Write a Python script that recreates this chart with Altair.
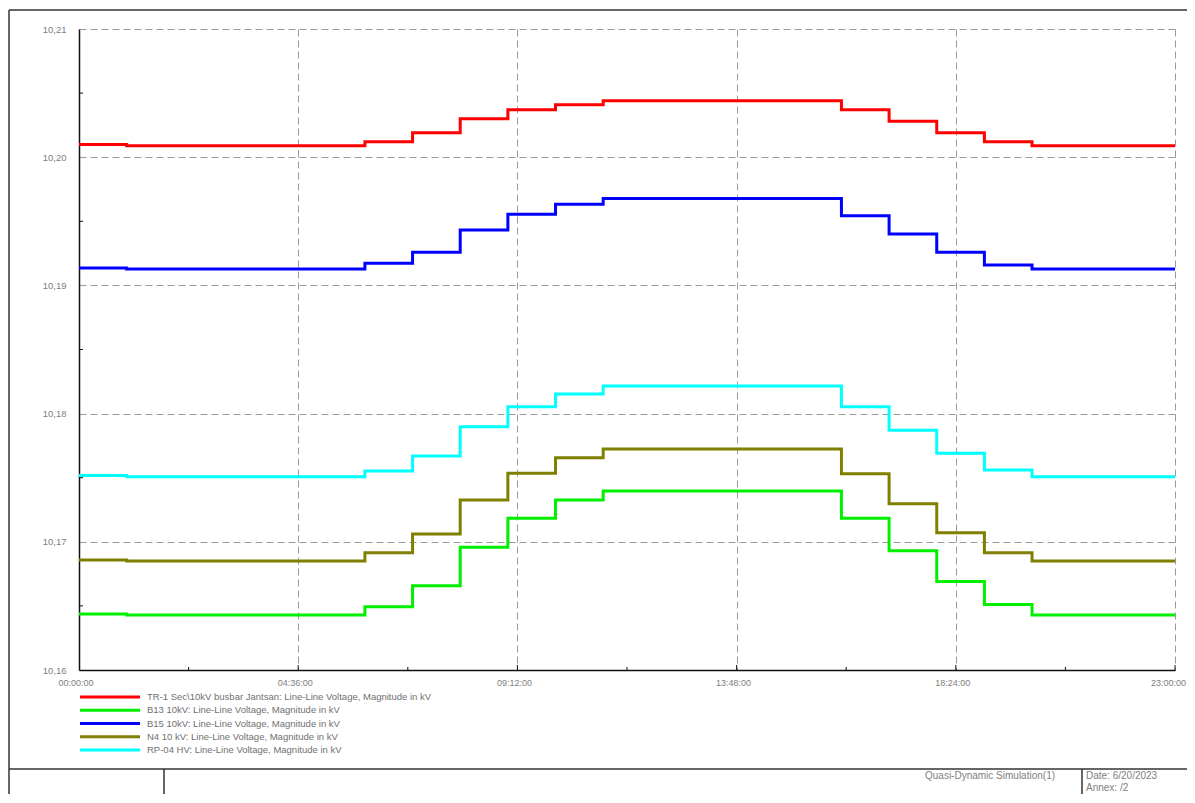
import altair as alt
import pandas as pd

# ---------------- data ----------------
hours = list(range(24))  # hourly steps, 00:00 ... 23:00

tr1 = [10.2010, 10.2009, 10.2009, 10.2009, 10.2009, 10.2009, 10.2012, 10.2019,
       10.2030, 10.2037, 10.2041, 10.2044, 10.2044, 10.2044, 10.2044, 10.2044,
       10.2037, 10.2028, 10.2019, 10.2012, 10.2009, 10.2009, 10.2009, 10.2009]
b13 = [10.16437, 10.16429, 10.16429, 10.16429, 10.16429, 10.16429, 10.16494, 10.16657,
       10.16957, 10.17183, 10.17326, 10.17396, 10.17396, 10.17396, 10.17396, 10.17396,
       10.17183, 10.16930, 10.16690, 10.16510, 10.16429, 10.16429, 10.16429, 10.16429]
b15 = [10.19136, 10.19128, 10.19128, 10.19128, 10.19128, 10.19128, 10.19172, 10.19258,
       10.19432, 10.19555, 10.19633, 10.19677, 10.19677, 10.19677, 10.19677, 10.19677,
       10.19544, 10.19401, 10.19258, 10.19159, 10.19128, 10.19128, 10.19128, 10.19128]
n4 = [10.16858, 10.16850, 10.16850, 10.16850, 10.16850, 10.16850, 10.16915, 10.17061,
      10.17326, 10.17534, 10.17656, 10.17724, 10.17724, 10.17724, 10.17724, 10.17724,
      10.17530, 10.17296, 10.17070, 10.16914, 10.16850, 10.16850, 10.16850, 10.16850]
rp04 = [10.17517, 10.17508, 10.17508, 10.17508, 10.17508, 10.17508, 10.17552, 10.17669,
        10.17898, 10.18054, 10.18153, 10.18215, 10.18215, 10.18215, 10.18215, 10.18215,
        10.18054, 10.17870, 10.17690, 10.17560, 10.17508, 10.17508, 10.17508, 10.17508]

series_names = [
    "TR-1 Sec\\10kV busbar Jantsan: Line-Line Voltage, Magnitude in kV",
    "B13 10kV: Line-Line Voltage, Magnitude in kV",
    "B15 10kV: Line-Line Voltage, Magnitude in kV",
    "N4 10 kV: Line-Line Voltage, Magnitude in kV",
    "RP-04 HV: Line-Line Voltage, Magnitude in kV",
]
series_values = [tr1, b13, b15, n4, rp04]
series_colors = ["#ff0000", "#00f000", "#0000ff", "#808000", "#00ffff"]

x_major = [0, 276, 552, 828, 1104, 1380]      # minutes: 00:00:00 ... 23:00:00
x_minor = [138, 414, 690, 966, 1242]
y_major = [10.16, 10.17, 10.18, 10.19, 10.20, 10.21]
y_minor = [10.165, 10.175, 10.185, 10.195, 10.205]

rows = []
for name, vals in zip(series_names, series_values):
    for h, v in zip(hours, vals):
        rows.append({"series": name, "minute": h * 60, "kv": v})
df = pd.DataFrame(rows)
leg_df = pd.DataFrame({"idx": list(range(len(series_names))), "series": series_names})

# ---------------- chart ----------------
W, H = 1096, 641
FONT = "Liberation Sans"
LBL = "#808080"
xscale = alt.Scale(domain=[0, 1380], nice=False, zero=False)
yscale = alt.Scale(domain=[10.16, 10.21], nice=False, zero=False)
cscale = alt.Scale(domain=series_names, range=series_colors)

lines = alt.Chart(df).mark_line(interpolate="step-after", strokeWidth=3).encode(
    x=alt.X("minute:Q", scale=xscale, axis=alt.Axis(
        values=x_major, title=None, grid=True, gridDash=[7, 4], gridColor="#9a9a9a",
        gridWidth=1, ticks=False, domainColor="#111", domainWidth=1.5,
        labelExpr="format(floor(datum.value/60),'02d') + ':' + format(datum.value % 60,'02d') + ':00'",
        labelFont=FONT, labelFontSize=9, labelColor=LBL, labelPadding=8,
        labelOffset={"condition": {"test": "datum.value >= 1380", "value": -7}, "value": -3.5},
        labelFlush=False)),
    y=alt.Y("kv:Q", scale=yscale, axis=alt.Axis(
        values=y_major, title=None, grid=True, gridDash=[7, 4], gridColor="#9a9a9a",
        gridWidth=1, ticks=False, domainColor="#111", domainWidth=1.5,
        labelExpr="replace(format(datum.value,'.2f'),'.',',')",
        labelFont=FONT, labelFontSize=9.5, labelColor=LBL, labelPadding=13)),
    color=alt.Color("series:N", scale=cscale, legend=None),
    order=alt.Order("minute:Q"),
)

xmaj = alt.Chart(pd.DataFrame({"m": x_major[1:]})).mark_rule(color="#111", strokeWidth=1).encode(
    x=alt.X("m:Q", scale=xscale), y=alt.value(H), y2=alt.value(H - 5))
xmin = alt.Chart(pd.DataFrame({"m": x_minor})).mark_rule(color="#111", strokeWidth=1).encode(
    x=alt.X("m:Q", scale=xscale), y=alt.value(H), y2=alt.value(H - 3))
ymin = alt.Chart(pd.DataFrame({"v": y_minor})).mark_rule(color="#111", strokeWidth=1).encode(
    y=alt.Y("v:Q", scale=yscale, axis=None), x=alt.value(0), x2=alt.value(4))

leg_y = alt.Y("idx:Q", scale=alt.Scale(domain=[0, 4], range=[668, 721]), axis=None)
leg_lines = alt.Chart(leg_df).mark_rule(strokeWidth=3).encode(
    x=alt.value(1), x2=alt.value(61), y=leg_y,
    color=alt.Color("series:N", scale=cscale, legend=None))
leg_text = alt.Chart(leg_df).mark_text(align="left", baseline="middle", font=FONT,
                                        fontSize=9.5, color="#707070").encode(
    x=alt.value(68), y=leg_y, text="series:N")

one = pd.DataFrame({"a": [0]})
frame_color = "#333"
frame = [
    alt.Chart(one).mark_rule(color=frame_color, strokeWidth=1.5).encode(
        x=alt.value(-70), x2=alt.value(1130), y=alt.value(-19)),
    alt.Chart(one).mark_rule(color=frame_color, strokeWidth=1.5).encode(
        x=alt.value(-70), y=alt.value(-19), y2=alt.value(800)),
    alt.Chart(one).mark_rule(color=frame_color, strokeWidth=1.5).encode(
        x=alt.value(-70), x2=alt.value(1130), y=alt.value(740)),
    alt.Chart(one).mark_rule(color=frame_color, strokeWidth=1.5).encode(
        x=alt.value(85), y=alt.value(740), y2=alt.value(800)),
    alt.Chart(one).mark_rule(color=frame_color, strokeWidth=1.5).encode(
        x=alt.value(1003), y=alt.value(740), y2=alt.value(800)),
    alt.Chart(one).mark_text(align="center", baseline="middle", font=FONT, fontSize=10,
                             color=LBL).encode(
        x=alt.value(911), y=alt.value(747), text=alt.value("Quasi-Dynamic Simulation(1)")),
    alt.Chart(one).mark_text(align="left", baseline="middle", font=FONT, fontSize=10,
                             color=LBL).encode(
        x=alt.value(1007), y=alt.value(747), text=alt.value("Date: 6/20/2023")),
    alt.Chart(one).mark_text(align="left", baseline="middle", font=FONT, fontSize=10,
                             color=LBL).encode(
        x=alt.value(1007), y=alt.value(759), text=alt.value("Annex:   /2")),
]

chart = alt.layer(lines, xmaj, xmin, ymin, leg_lines, leg_text, *frame).resolve_scale(
    y="independent"
).properties(
    width=W, height=H,
    autosize=alt.AutoSizeParams(type="none"),
    padding={"left": 71, "top": 21, "right": 12, "bottom": 124},
    background="white",
).configure_view(stroke=None)

chart.save("out.html", embed_options={"renderer": "svg", "actions": False})
